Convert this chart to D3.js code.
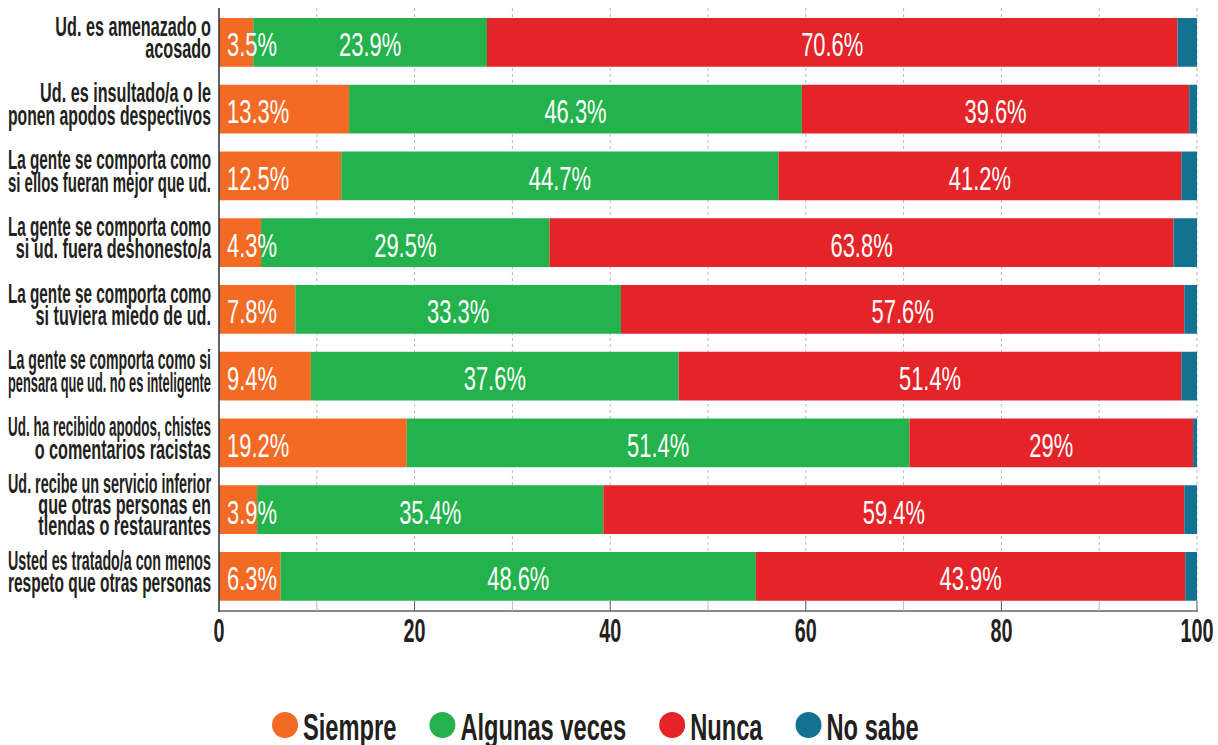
<!DOCTYPE html>
<html>
<head>
<meta charset="utf-8">
<script src="https://cdn.jsdelivr.net/npm/d3@7"></script>
<style>
  body { margin: 0; background: #fff; }
  svg { display: block; }
  text { font-family: "Liberation Sans", Arial, sans-serif; }
</style>
</head>
<body>
<div id="chart"></div>
<script>
// categories (line breaks as in the original)
var categories = [
    "Ud. es amenazado o\nacosado",
    "Ud. es insultado/a o le\nponen apodos despectivos",
    "La gente se comporta como\nsi ellos fueran mejor que ud.",
    "La gente se comporta como\nsi ud. fuera deshonesto/a",
    "La gente se comporta como\nsi tuviera miedo de ud.",
    "La gente se comporta como si\npensara que ud. no es inteligente",
    "Ud. ha recibido apodos, chistes\no comentarios racistas",
    "Ud. recibe un servicio inferior\nque otras personas en\ntiendas o restaurantes",
    "Usted es tratado/a con menos\nrespeto que otras personas"
];
var siempre = [3.5, 13.3, 12.5, 4.3, 7.8, 9.4, 19.2, 3.9, 6.3];
var algunasVeces = [23.9, 46.3, 44.7, 29.5, 33.3, 37.6, 51.4, 35.4, 48.6];
var nunca = [70.6, 39.6, 41.2, 63.8, 57.6, 51.4, 29, 59.4, 43.9];
var noSabe = [2.0, 0.8, 1.6, 2.4, 1.3, 1.6, 0.4, 1.3, 1.2];

var seriesNames = ["Siempre", "Algunas veces", "Nunca", "No sabe"];
var seriesColors = ["#f26a23", "#23b24c", "#e42428", "#137192"];
var xTicks = [0, 20, 40, 60, 80, 100];

var W = 1218, H = 745;
var left = 219, right = 1197;

var rows = categories.map(function(c, i) {
    return {cat: c, "Siempre": siempre[i], "Algunas veces": algunasVeces[i],
            "Nunca": nunca[i], "No sabe": noSabe[i]};
});

var svg = d3.select("#chart").append("svg")
    .attr("width", W).attr("height", H);

var x = d3.scaleLinear().domain([0, 100]).range([left, right]);
var y = d3.scaleBand().domain(categories).range([9, 609.75])
    .paddingInner(0.27).paddingOuter(0.135);

var color = d3.scaleOrdinal().domain(seriesNames).range(seriesColors);

// dashed grid every 10
svg.append("g").selectAll("line")
    .data(d3.range(10, 101, 10))
    .enter().append("line")
    .attr("x1", function(d) { return x(d); })
    .attr("x2", function(d) { return x(d); })
    .attr("y1", 8).attr("y2", 601)
    .attr("stroke", "#b9b9b9")
    .attr("stroke-width", 1)
    .attr("stroke-dasharray", "3,3");

// bars
var stacked = d3.stack().keys(seriesNames)(rows);

svg.append("g").selectAll("g")
    .data(stacked)
    .enter().append("g")
    .attr("fill", function(d) { return color(d.key); })
    .selectAll("rect")
    .data(function(d) { return d; })
    .enter().append("rect")
    .attr("x", function(d) { return x(d[0]); })
    .attr("width", function(d) { return x(d[1]) - x(d[0]); })
    .attr("y", function(d) { return y(d.data.cat); })
    .attr("height", y.bandwidth());

// bottom axis: line + ticks pointing up
var axisY = 611;
svg.append("line")
    .attr("x1", left).attr("x2", right + 1)
    .attr("y1", axisY).attr("y2", axisY)
    .attr("stroke", "#8a8a8a").attr("stroke-width", 2);

svg.append("g").selectAll("line")
    .data(d3.range(10, 101, 10))
    .enter().append("line")
    .attr("x1", function(d) { return x(d); })
    .attr("x2", function(d) { return x(d); })
    .attr("y1", 601).attr("y2", axisY)
    .attr("stroke", function(d) { return d % 20 == 0 ? "#555" : "#bdbdbd"; })
    .attr("stroke-width", 1);

// left axis line
svg.append("line")
    .attr("x1", left).attr("x2", left)
    .attr("y1", 8).attr("y2", axisY + 1)
    .attr("stroke", "#3a3a3a").attr("stroke-width", 1.6);

// condensed text helper: scale a group horizontally
function condensed(parent, px, py, sx) {
    return parent.append("g")
        .attr("transform", "translate(" + px + "," + py + ") scale(" + sx + ",1)");
}

// tick labels
xTicks.forEach(function(t) {
    condensed(svg, x(t), 642, 0.6).append("text")
        .attr("text-anchor", "middle")
        .attr("font-size", 33)
        .attr("font-weight", "bold")
        .attr("fill", "#231f20")
        .text(t);
});

// category labels, squeezed further when a line is too long
var lineH = {2: 22.5, 3: 21};
var maxLabelW = 203;
categories.forEach(function(c) {
    var lines = c.split("\n");
    var n = lines.length;
    var cy = y(c) + y.bandwidth() / 2;
    lines.forEach(function(l, k) {
        var by = cy + 4.5 + (k - (n - 1) / 2) * lineH[n];
        var g = condensed(svg, 211, by, 0.6);
        var t = g.append("text")
            .attr("text-anchor", "end")
            .attr("font-size", 27)
            .attr("font-weight", "bold")
            .attr("fill", "#231f20")
            .text(l);
        var w = t.node().getComputedTextLength();
        var sx = Math.min(0.6, maxLabelW / w);
        g.attr("transform", "translate(211," + by + ") scale(" + sx + ",1)");
    });
});

// value labels
stacked.forEach(function(s, si) {
    if (s.key == "No sabe") return;
    s.forEach(function(d) {
        var v = d.data[s.key];
        var cy = y(d.data.cat) + y.bandwidth() / 2 + 14;
        var px, anchor;
        if (si == 0) { px = x(d[0]) + 8; anchor = "start"; }
        else { px = (x(d[0]) + x(d[1])) / 2; anchor = "middle"; }
        condensed(svg, px, cy, 0.645).append("text")
            .attr("text-anchor", anchor)
            .attr("font-size", 34)
            .attr("fill", "#fff")
            .text(v + "%");
    });
});

// legend
var lx = 272;
var legY = 725, r = 13;
var legSx = 0.64;
seriesNames.forEach(function(name, i) {
    svg.append("circle")
        .attr("cx", lx + r).attr("cy", legY).attr("r", r)
        .attr("fill", seriesColors[i]);
    var g = condensed(svg, lx + 2 * r + 5, 740, legSx);
    var t = g.append("text")
        .attr("font-size", 37)
        .attr("font-weight", "bold")
        .attr("fill", "#231f20")
        .text(name);
    var w = t.node().getComputedTextLength() * legSx;
    lx = lx + 2 * r + 5 + w + 33;
});
</script>
</body>
</html>
